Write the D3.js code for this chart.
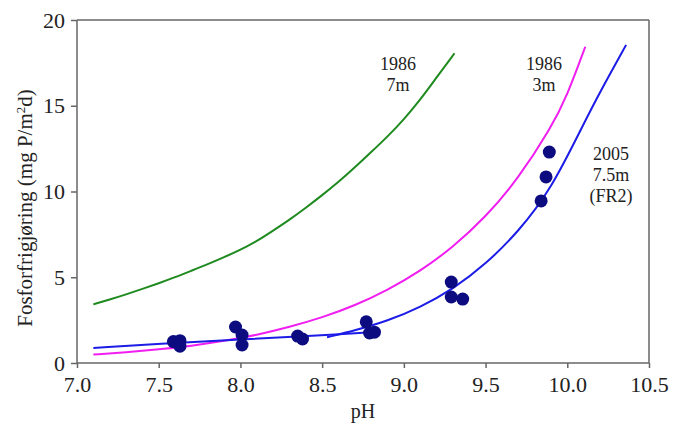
<!DOCTYPE html>
<html>
<head>
<meta charset="utf-8">
<script src="https://cdn.jsdelivr.net/npm/d3@7"></script>
<style>
  html, body { margin: 0; padding: 0; background: #fff; }
  svg { display: block; }
  text { font-family: "Liberation Serif", "Times New Roman", serif; fill: #222; }
</style>
</head>
<body>
<svg id="chart" width="674" height="425"></svg>
<script>
// ---- data ----
const xTicks = [7.0, 7.5, 8.0, 8.5, 9.0, 9.5, 10.0, 10.5];
const yTicks = [0, 5, 10, 15, 20];

// 1986, 7 m (green curve)
const curve1986_7m = [
  [7.1, 3.42], [7.2, 3.7], [7.3, 4.0], [7.4, 4.32], [7.5, 4.65], [7.6, 5.0],
  [7.7, 5.38], [7.8, 5.76], [7.9, 6.17], [8.0, 6.6], [8.1, 7.1], [8.2, 7.72],
  [8.3, 8.35], [8.4, 9.05], [8.5, 9.78], [8.6, 10.55], [8.7, 11.4], [8.8, 12.3],
  [8.9, 13.2], [9.0, 14.2], [9.1, 15.35], [9.2, 16.65], [9.31, 18.06]
];
// 1986, 3 m (magenta curve)
const curve1986_3m = [
  [7.1, 0.49], [7.3, 0.62], [7.5, 0.79], [7.7, 1.0], [7.9, 1.28], [8.1, 1.63],
  [8.3, 2.1], [8.5, 2.65], [8.7, 3.35], [8.9, 4.25], [9.1, 5.35], [9.3, 6.75],
  [9.5, 8.5], [9.7, 10.75], [9.9, 13.7], [10.0, 15.6], [10.11, 18.44]
];
// 2005, 7.5 m (FR2) - blue, low segment
const curve2005_low = [
  [7.1, 0.87], [7.5, 1.12], [8.0, 1.38], [8.5, 1.6], [8.8, 1.8]
];
// 2005, 7.5 m (FR2) - blue, steep segment
const curve2005_high = [
  [8.53, 1.5], [8.7, 1.9], [8.9, 2.45], [9.1, 3.25], [9.3, 4.3], [9.5, 5.75],
  [9.7, 7.65], [9.9, 10.1], [10.1, 13.95], [10.2, 15.8], [10.36, 18.55]
];
// measured points 2005
const pointsPH = [7.59, 7.63, 7.63, 7.97, 8.01, 8.01, 8.35, 8.38, 8.77, 8.79, 8.82, 9.29, 9.29, 9.36, 9.84, 9.87, 9.89];
const pointsP  = [1.25, 1.3, 0.98, 2.1, 1.63, 1.05, 1.57, 1.4, 2.4, 1.75, 1.8, 4.72, 3.85, 3.73, 9.45, 10.85, 12.3];

// ---- layout ----
const svg = d3.select("#chart");
const pL = 77, pR = 649, pT = 20, pB = 363;
const x = d3.scaleLinear().domain([7.0, 10.5]).range([pL, pR]);
const y = d3.scaleLinear().domain([0, 20]).range([pB, pT]);

const axisColor = "#666";

// frame top & right
svg.append("line").attr("x1", pL).attr("x2", pR).attr("y1", pT).attr("y2", pT)
  .attr("stroke", axisColor).attr("stroke-width", 1.5);
svg.append("line").attr("x1", pR).attr("x2", pR).attr("y1", pT).attr("y2", pB)
  .attr("stroke", axisColor).attr("stroke-width", 1.5);

// axes
const xAxis = svg.append("g").attr("transform", `translate(0,${pB})`)
  .call(d3.axisBottom(x).tickValues(xTicks).tickFormat(d3.format(".1f")).tickSize(5).tickPadding(8));
const yAxis = svg.append("g").attr("transform", `translate(${pL},0)`)
  .call(d3.axisLeft(y).tickValues(yTicks).tickFormat(d3.format("d")).tickSize(6).tickPadding(6));
[xAxis, yAxis].forEach(g => {
  g.selectAll("path, line").attr("stroke", axisColor).attr("stroke-width", 1.5);
  g.selectAll("text").style("font-family", '"Liberation Serif", serif').style("font-size", "22px").attr("fill", "#222");
});
yAxis.select(".domain").attr("d", `M0,${pB}V${pT}`);
xAxis.select(".domain").attr("d", `M${pL},0H${pR}`);

// curves
const line = d3.line().x(d => x(d[0])).y(d => y(d[1])).curve(d3.curveBasis);
const curves = [
  { data: curve1986_7m, color: "#1f8a1f" },
  { data: curve1986_3m, color: "#f01ef0" },
  { data: curve2005_low, color: "#1c1ce6" },
  { data: curve2005_high, color: "#1c1ce6" }
];
curves.forEach(c => {
  svg.append("path").datum(c.data).attr("d", line)
    .attr("fill", "none").attr("stroke", c.color).attr("stroke-width", 2);
});

// points
svg.append("g").selectAll("circle").data(pointsPH.map((p, i) => [p, pointsP[i]])).join("circle")
  .attr("cx", d => x(d[0])).attr("cy", d => y(d[1])).attr("r", 6.5)
  .attr("fill", "#0c0c80");

// annotations
const labels = [
  { x: 398, y: 70, lines: ["1986", "7m"] },
  { x: 544, y: 70, lines: ["1986", "3m"] },
  { x: 611, y: 160, lines: ["2005", "7.5m", "(FR2)"] }
];
labels.forEach(l => {
  l.lines.forEach((t, i) => {
    svg.append("text").attr("x", l.x).attr("y", l.y + i * 21)
      .attr("text-anchor", "middle").style("font-size", "18px").text(t);
  });
});

// axis titles
svg.append("text").attr("x", (pL + pR) / 2).attr("y", 418)
  .attr("text-anchor", "middle").style("font-size", "20px").text("pH");

const yt = svg.append("text").attr("transform", "translate(32,208) rotate(-90)")
  .attr("text-anchor", "middle").style("font-size", "21px");
yt.append("tspan").text("Fosforfrigjøring (mg P/m");
yt.append("tspan").attr("baseline-shift", "super").style("font-size", "13px").text("2");
yt.append("tspan").text("d)");
</script>
</body>
</html>
